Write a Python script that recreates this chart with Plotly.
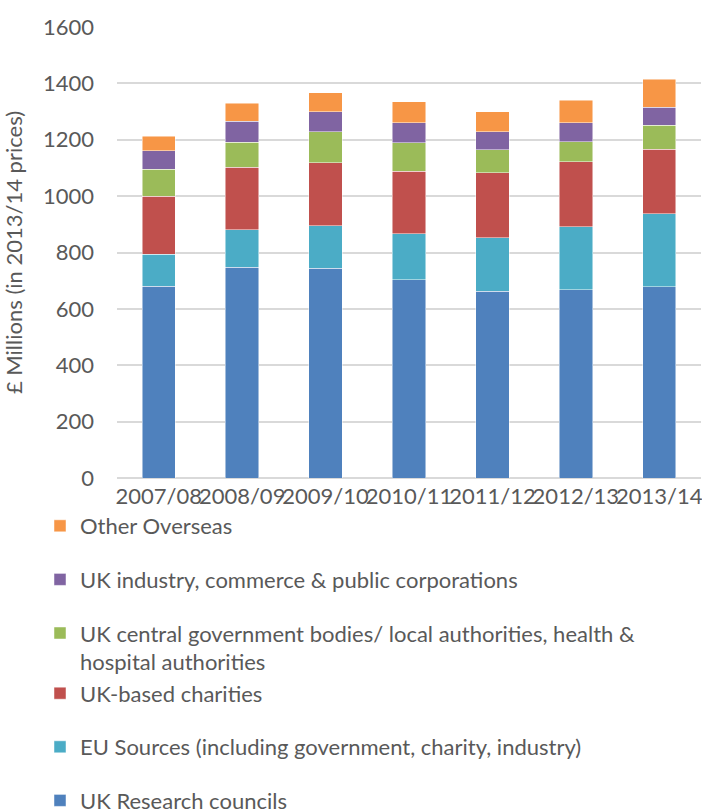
import plotly.graph_objects as go

# Research income by source, £ millions in 2013/14 prices
years = ["2007/08", "2008/09", "2009/10", "2010/11", "2011/12", "2012/13", "2013/14"]

research_councils = [680, 748, 744, 703, 662, 667, 678]
eu_sources = [114, 133, 151, 163, 191, 225, 260]
uk_charities = [205, 221, 224, 222, 230, 230, 229]
central_government = [97, 90, 110, 102, 81, 71, 84]
uk_industry = [65, 73, 71, 70, 64, 67, 64]
other_overseas = [52, 65, 67, 74, 72, 81, 99]

TEXT = "#595959"
GRID = "#d9d9d9"
FONT = "Lato, Open Sans, sans-serif"
SIZE = 22

# (legend name, values, colour, legend group, legend rank)
series = [
    ("UK Research councils", research_councils, "#4f81bd", "g5", 6),
    ("EU Sources (including government, charity, industry)", eu_sources, "#4bacc6", "g4", 5),
    ("UK-based charities", uk_charities, "#c0504d", "g3", 4),
    ("UK central government bodies/ local authorities, health &<br>hospital authorities",
     central_government, "#9bbb59", "g3", 3),
    ("UK industry, commerce & public corporations", uk_industry, "#8064a2", "g2", 2),
    ("Other Overseas", other_overseas, "#f79646", "g1", 1),
]

fig = go.Figure()
for name, values, color, group, rank in series:
    fig.add_trace(go.Bar(
        x=years,
        y=values,
        name=name,
        legendgroup=group,
        legendrank=rank,
        marker=dict(color=color, line=dict(color="rgba(255,255,255,0.6)", width=0.8)),
    ))

# plot area spans x 117..701 px and y 27..478 px
PLOT_L, PLOT_R, PLOT_T, PLOT_B = 117, 701, 27, 478
plot_w = PLOT_R - PLOT_L
plot_h = PLOT_B - PLOT_T

fig.update_layout(
    width=702,
    height=810,
    barmode="stack",
    bargap=0.6,
    paper_bgcolor="white",
    plot_bgcolor="white",
    font=dict(family=FONT, size=SIZE, color=TEXT),
    margin=dict(l=PLOT_L, r=702 - PLOT_R, t=PLOT_T, b=810 - PLOT_B, autoexpand=False),
    legend=dict(
        orientation="v",
        traceorder="grouped",
        tracegroupgap=22,
        valign="top",
        x=(40 - PLOT_L) / plot_w,
        xanchor="left",
        y=(PLOT_B - 505) / plot_h,
        yanchor="top",
        font=dict(family=FONT, size=SIZE, color=TEXT),
        bgcolor="rgba(0,0,0,0)",
    ),
    showlegend=True,
)

fig.update_yaxes(
    range=[0, 1600],
    dtick=200,
    showgrid=True,
    gridcolor=GRID,
    gridwidth=1.5,
    zeroline=True,
    zerolinecolor=GRID,
    zerolinewidth=1.5,
    showline=False,
    ticks="",
    ticklabelstandoff=22,
    tickfont=dict(family=FONT, size=SIZE, color=TEXT),
    title=dict(text="£ Millions (in 2013/14 prices)", standoff=21,
               font=dict(family=FONT, size=SIZE, color=TEXT)),
    fixedrange=True,
)
fig.update_xaxes(
    tickangle=0,
    ticks="",
    showline=False,
    showgrid=False,
    ticklabelstandoff=3,
    tickfont=dict(family=FONT, size=SIZE, color=TEXT),
    fixedrange=True,
)

fig.write_html("out.html")
